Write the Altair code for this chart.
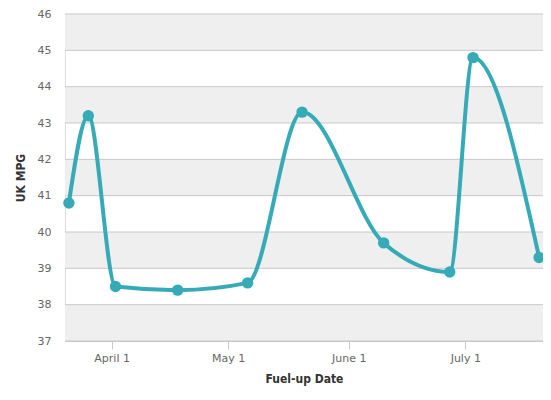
import altair as alt
import pandas as pd

dates = ["2014-03-21", "2014-03-26", "2014-04-02", "2014-04-18", "2014-05-06",
         "2014-05-20", "2014-06-10", "2014-06-27", "2014-07-03", "2014-07-20"]
mpg = [40.8, 43.2, 38.5, 38.4, 38.6, 43.3, 39.7, 38.9, 44.8, 39.3]

band_start = [37, 39, 41, 43, 45]
band_end = [38, 40, 42, 44, 46]
y_ticks = [37, 38, 39, 40, 41, 42, 43, 44, 45, 46]

df = pd.DataFrame({"date": dates, "mpg": mpg})
bands = pd.DataFrame({"y0": band_start, "y1": band_end})
grid = pd.DataFrame({"v": y_ticks})

TEAL = "#36abb7"
LFONT = "DejaVu Sans"
TFONT = "DejaVu Sans Condensed"

xscale = alt.Scale(type="utc",
                   domain=[alt.DateTime(year=2014, month=3, date=20, utc=True),
                           alt.DateTime(year=2014, month=7, date=21, utc=True)])
yscale = alt.Scale(domain=[37, 46], nice=False, zero=False)

tick_vals = [alt.DateTime(year=2014, month=m, date=1, utc=True) for m in [4, 5, 6, 7]]

yaxis = alt.Axis(title="UK MPG", values=y_ticks, grid=False, labelOverlap=False,
                 domain=False, ticks=False,
                 labelPadding=14, titlePadding=10, labelColor="#666666",
                 labelFontSize=11, titleFontSize=12, titleFontWeight="bold",
                 titleColor="#333333", labelFont=LFONT, titleFont=TFONT)

xaxis = alt.Axis(title="Fuel-up Date", values=tick_vals,
                 labelExpr="utcFormat(datum.value, '%B') + ' ' + utcdate(datum.value)",
                 grid=False, domainColor="#c8c8c8", labelOverlap=False,
                 tickColor="#c8c8c8", tickSize=8, labelPadding=3,
                 titlePadding=10, labelColor="#666666", labelFontSize=11,
                 titleFontSize=12, titleFontWeight="bold", titleColor="#333333",
                 labelFont=LFONT, titleFont=TFONT)

band_layer = alt.Chart(bands).mark_rect(color="#efefef").encode(
    y=alt.Y("y0:Q", scale=yscale, axis=yaxis),
    y2="y1:Q",
)

grid_layer = alt.Chart(grid).mark_rule(color="#c8c8c8", strokeWidth=1).encode(
    y=alt.Y("v:Q", scale=yscale, axis=yaxis),
)

line = alt.Chart(df).mark_line(color=TEAL, strokeWidth=4, interpolate="monotone").encode(
    x=alt.X("date:T", scale=xscale, axis=xaxis),
    y=alt.Y("mpg:Q", scale=yscale, axis=yaxis),
)

points = alt.Chart(df).mark_point(filled=True, color=TEAL, size=130, opacity=1).encode(
    x=alt.X("date:T", scale=xscale, axis=xaxis),
    y=alt.Y("mpg:Q", scale=yscale, axis=yaxis),
)

chart = alt.layer(band_layer, grid_layer, line, points).properties(
    width=478, height=327,
    autosize=alt.AutoSizeParams(type="none"),
    padding={"left": 57, "top": 6, "right": 0, "bottom": 45},
).configure_view(stroke=None).configure(background="white")

chart.save("out.html", embed_options={"renderer": "svg", "actions": False})
